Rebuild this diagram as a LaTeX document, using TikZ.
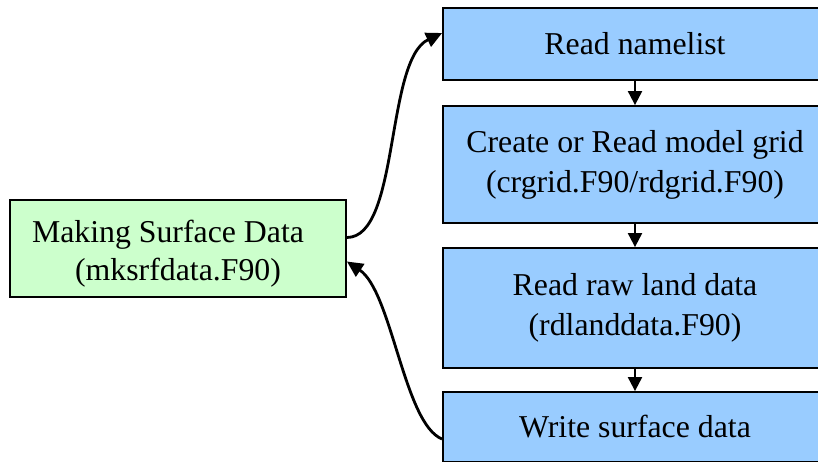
\documentclass[tikz,border=0pt]{standalone}
\usepackage{fontspec}
\setmainfont{Liberation Serif}
\usetikzlibrary{arrows.meta,calc}
\definecolor{stageblue}{HTML}{99CCFF}
\definecolor{maingreen}{HTML}{CCFFCC}
\begin{document}
\begin{tikzpicture}[x=1pt,y=-1pt,
  label font/.style={font=\fontsize{31.8pt}{40pt}\selectfont},
  box/.style={draw=black, line width=1.8pt, inner sep=0pt, align=center, label font},
  stage/.style={box, fill=stageblue, minimum width=384pt},
  mainbox/.style={box, fill=maingreen},
  flow/.style={line width=2pt, -{Triangle[length=14pt,width=14pt]}},
  loop/.style={line width=2.8pt, -{Triangle[length=16pt,width=15pt]}}]
\useasboundingbox (0,0) rectangle (818,461);
\clip (0,0) rectangle (818,461);

% driver routine
\node[mainbox, minimum width=336pt, minimum height=97pt] (ms) at (178,248.5) {};
\node[align=center, inner sep=0pt, font=\fontsize{31.8pt}{38pt}\selectfont]
  (mstext) at ($(ms.center)+(0,5)$)
  {Making Surface Data\hbox to 20pt{\hfil}\\(mksrfdata.F90)};

% processing stages
\node[stage, minimum height=72pt]  (s1) at (635,44)    {Read namelist};
\node[stage, minimum height=117pt] (s2) at (635,164.5) {Create or Read model grid\\(crgrid.F90/rdgrid.F90)};
\node[stage, minimum height=120pt] (s3) at (635,308)   {Read raw land data\\(rdlanddata.F90)};
\node[stage, minimum height=70pt]  (s4) at (635,427)   {Write surface data};

% sequence between stages
\draw[flow] (s1.south) -- (s2.north);
\draw[flow] (s2.south) -- (s3.north);
\draw[flow] (s3.south) -- (s4.north);

% call and return
\draw[loop] ($(ms.east)+(0,-11)$) .. controls +(53,0) and +(-57,27) .. ($(s1.west)+(0,-11)$);
\draw[loop] ($(s4.west)+(0,12)$) .. controls +(-38,-15) and +(45,30) .. ($(ms.east)+(0,13)$);
\end{tikzpicture}
\end{document}
